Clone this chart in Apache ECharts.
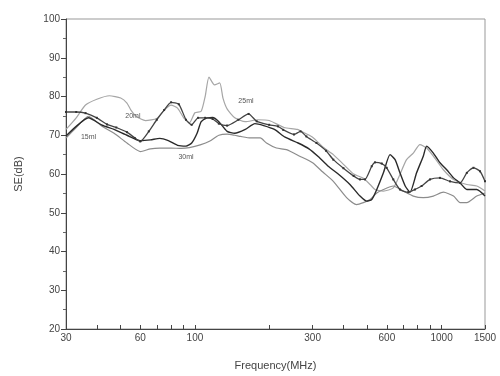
<!DOCTYPE html>
<html>
<head>
<meta charset="utf-8">
<script src="https://cdn.jsdelivr.net/npm/echarts@6/dist/echarts.min.js"></script>
<style>
  html, body { margin: 0; padding: 0; background: #fff; }
  #chart { width: 500px; height: 376px; }
</style>
</head>
<body>
<div id="chart"></div>
<script>
// frequency (MHz) / shielding effectiveness (dB)
const se15ml = [
  [30, 69.8], [33, 72.3], [37, 74.5], [42, 72.6], [47, 71.5], [53, 70], [60, 68.6],
  [66, 68.8], [72, 69.2], [78, 68.6], [85, 67.4], [92, 67.2], [97, 68], [102, 70.5],
  [106, 73.5], [112, 74.5], [118, 74.6], [125, 73.5], [135, 71], [145, 70.5], [160, 71.5],
  [175, 73], [190, 72.5], [210, 71.5], [232, 69.5], [262, 68], [290, 66.5], [316, 64.5],
  [347, 62], [381, 60], [425, 57.3], [467, 54.3], [497, 53], [521, 53.4], [546, 56],
  [581, 60.3], [618, 65], [648, 63.7], [678, 60.3], [712, 56.9], [745, 55.3], [792, 60.3],
  [843, 64.6], [870, 67.2], [926, 65.4], [985, 62.9], [1049, 61.1], [1118, 59],
  [1189, 57.7], [1266, 56], [1389, 56], [1500, 54.3]
];
const se20ml = [
  [30, 71.5], [33, 74.5], [36, 77.8], [40, 79.3], [45, 80.2], [50, 79.6], [53, 78.3],
  [55, 76.5], [58, 74.8], [63, 73.8], [70, 74.3], [75, 76.5], [80, 77.8], [85, 77],
  [90, 74.5], [95, 73.2], [100, 75.8], [106, 76.2], [110, 80], [114, 85], [120, 83],
  [126, 83.5], [130, 79.5], [135, 76.8], [145, 74.5], [160, 73.5], [180, 74], [200, 73.8],
  [230, 72], [260, 71.5], [280, 70.5], [300, 69.5], [330, 67], [364, 65], [400, 62.5],
  [440, 60], [482, 58.9], [513, 57.3], [537, 56], [581, 55.6], [637, 56.4], [678, 59.9],
  [721, 63.7], [768, 65.4], [817, 67.6], [870, 66.7], [926, 64.6], [1017, 61.1],
  [1118, 58.6], [1266, 57.3], [1389, 56.9], [1500, 55.6]
];
const se25ml = [
  [30, 76], [33, 76], [36, 75.7], [40, 74.5], [44, 72.8], [48, 72], [53, 70.8], [57, 69.3],
  [60, 68.4], [65, 71], [70, 74], [75, 76.5], [80, 78.5], [86, 78], [92, 74], [97, 72.7],
  [103, 74.5], [110, 74.5], [118, 74.2], [125, 73], [135, 72.5], [150, 74], [165, 75.5],
  [178, 73.6], [200, 72.7], [217, 72.3], [228, 71.4], [252, 70.2], [268, 71], [283, 69.7],
  [311, 68], [340, 66], [364, 63.7], [400, 61.5], [440, 59.5], [467, 58.6], [489, 58.6],
  [521, 62], [537, 63], [572, 62.7], [599, 61.6], [637, 58.6], [678, 56], [733, 55.3],
  [780, 56], [830, 56.9], [898, 58.6], [985, 59], [1082, 58.1], [1189, 57.7], [1266, 60.3],
  [1347, 61.6], [1432, 60.7], [1500, 58.1]
];
const se30ml = [
  [30, 69.3], [33, 72], [37, 74.9], [42, 72.3], [47, 70.5], [53, 68], [60, 65.8], [66, 66.5],
  [72, 66.7], [80, 66.7], [88, 66.6], [95, 66.8], [105, 67.5], [115, 68.5], [125, 70],
  [135, 70.3], [145, 70], [153, 69.7], [168, 69.3], [184, 69.3], [195, 68], [214, 66.7],
  [235, 66.3], [266, 64.6], [300, 62.9], [330, 60.5], [364, 58.1], [412, 53.9], [452, 52.1],
  [482, 52.6], [513, 53.4], [546, 55.1], [581, 56], [637, 56.9], [699, 55.6], [768, 54.3],
  [843, 53.9], [926, 54.3], [1017, 55.3], [1118, 54.3], [1189, 52.6], [1266, 52.6],
  [1389, 54.3], [1500, 55.1]
];

const xLabelValues = [30, 60, 100, 300, 600, 1000, 1500];
const xTickValues = [30, 40, 50, 60, 70, 80, 90, 100, 200, 300, 400, 500, 600, 700, 800, 900, 1000, 1500];

// curve labels written on the plot: [name, frequency, SE]
const curveNotes = [
  ['15ml', 37, 69.6],
  ['20ml', 56, 75.0],
  ['25ml', 161, 78.9],
  ['30ml', 92, 64.5]
];

const FONT = 'Arial, "Liberation Sans", sans-serif';

function note(name) {
  const n = curveNotes.find((c) => c[0] === name);
  return {
    symbol: 'circle',
    symbolSize: 0,
    silent: true,
    label: { show: true, formatter: name, position: 'inside', color: '#555', fontSize: 7, fontFamily: FONT },
    data: [{ coord: [n[1], n[2]] }]
  };
}

function line(name, data, color, width, dotted) {
  return {
    name,
    type: 'line',
    data,
    smooth: 0.2,
    showSymbol: dotted,
    symbol: 'rect',
    symbolSize: 2,
    itemStyle: { color: '#333' },
    lineStyle: { color, width },
    markPoint: note(name),
    z: dotted ? 4 : 3
  };
}

const chart = echarts.init(document.getElementById('chart'), null, { renderer: 'canvas' });

chart.setOption({
  animation: false,
  backgroundColor: '#fff',
  grid: { left: 66, right: 15, top: 19, bottom: 46, show: true, borderColor: '#999', borderWidth: 1 },
  xAxis: {
    type: 'log',
    logBase: 10,
    min: 30,
    max: 1500,
    name: 'Frequency(MHz)',
    nameLocation: 'middle',
    nameGap: 31,
    nameTextStyle: { fontSize: 11, color: '#444', fontFamily: FONT },
    axisLine: { lineStyle: { color: '#444', width: 1 } },
    axisTick: { inside: true, length: 4, customValues: xTickValues, lineStyle: { color: '#444' } },
    axisLabel: {
      customValues: xLabelValues,
      formatter: (v) => String(Math.round(v)),
      margin: 4,
      fontSize: 10,
      color: '#444',
      fontFamily: FONT
    },
    splitLine: { show: false },
    minorTick: { show: false }
  },
  yAxis: {
    type: 'value',
    min: 20,
    max: 100,
    interval: 10,
    name: 'SE(dB)',
    nameLocation: 'middle',
    nameRotate: 90,
    nameGap: 42,
    nameTextStyle: { fontSize: 11, color: '#444', fontFamily: FONT },
    axisLine: { show: true, lineStyle: { color: '#444', width: 1 } },
    axisTick: { show: true, length: 5, lineStyle: { color: '#444' } },
    minorTick: { show: true, splitNumber: 2, length: 3, lineStyle: { color: '#666' } },
    axisLabel: { margin: 6, fontSize: 10, color: '#444', fontFamily: FONT },
    splitLine: { show: false }
  },
  series: [
    line('20ml', se20ml, '#a6a6a6', 1.2, false),
    line('30ml', se30ml, '#8c8c8c', 1.2, false),
    line('25ml', se25ml, '#444444', 1.3, true),
    line('15ml', se15ml, '#2a2a2a', 1.4, false)
  ]
});
</script>
</body>
</html>
